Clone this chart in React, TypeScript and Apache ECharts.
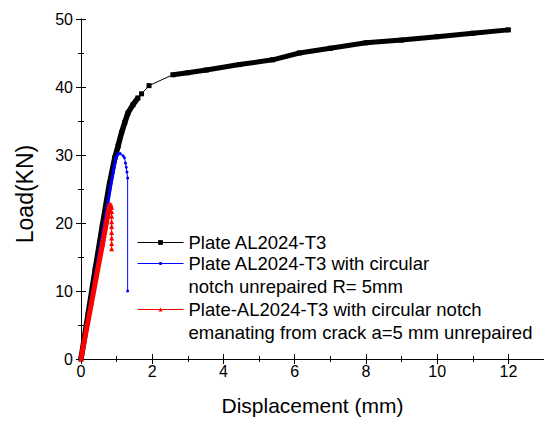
import React, { useEffect, useRef } from "react";
import * as echarts from "echarts";

const FONT = 'Arial, "Liberation Sans", sans-serif';

const seriesNames = [
  "Plate AL2024-T3",
  "Plate AL2024-T3 with circular notch unrepaired R= 5mm",
  "Plate-AL2024-T3 with circular notch emanating from crack a=5 mm unrepaired",
];
const legendLabels = [
  "Plate AL2024-T3",
  "\nPlate AL2024-T3 with circular\nnotch unrepaired R= 5mm",
  "\nPlate-AL2024-T3 with circular notch\nemanating from crack a=5 mm unrepaired",
];

// Plate AL2024-T3 (black)
const blackX = [0, 0.2, 0.4, 0.6, 0.8, 0.95, 1.04, 1.14, 1.23, 1.32, 1.46, 1.6, 1.7, 1.91, 2.16, 2.58, 3.0, 3.52, 4.45, 5.38, 6.13, 7.0, 8.0, 9.0, 10.0, 11.0, 12.0];
const blackY = [0, 6.6, 13.2, 19.6, 25.8, 29.6, 31.3, 33.3, 34.8, 36.2, 37.4, 38.4, 39.0, 40.2, 40.8, 41.8, 42.1, 42.5, 43.3, 44.0, 45.0, 45.7, 46.5, 46.9, 47.4, 47.9, 48.4];
const blackDenseA = [0, 11]; // index ranges drawn densely (thick)
const blackDenseB = [15, 26];
const blackNoMarker = [14];

// circular notch unrepaired (blue)
const blueX = [0, 0.3, 0.6, 0.9, 0.98, 1.04, 1.1, 1.18, 1.22, 1.25, 1.27, 1.29, 1.31, 1.31];
const blueY = [0, 9.1, 18.3, 27.4, 29.5, 30.2, 30.2, 29.9, 29.6, 28.8, 28.2, 27.5, 26.6, 10.0];
const blueDense = [0, 5];

// notch emanating from crack (red)
const redX = [0, 0.3, 0.6, 0.75, 0.81, 0.84, 0.86, 0.86, 0.86, 0.86, 0.86, 0.86, 0.86, 0.86, 0.86];
const redY = [0, 8.4, 16.8, 21.1, 22.8, 22.7, 22.3, 21.7, 21.0, 20.2, 19.5, 18.6, 17.8, 17.0, 16.2];
const redDense = [0, 4];

const pairs = (xs: number[], ys: number[], from = 0, to = xs.length - 1) =>
  xs.slice(from, to + 1).map((x, i) => [x, ys[from + i]]);

export default function App() {
  const ref = useRef<HTMLDivElement>(null);
  useEffect(() => {
    if (!ref.current) return;
    const chart = echarts.init(ref.current, undefined, { renderer: "svg" });
    const axisLine = { show: true, lineStyle: { color: "#000", width: 1 } };
    const xBase = { type: "value", min: 0, max: 13, gridIndex: 0, splitLine: { show: false } };
    const yBase = { type: "value", min: 0, max: 50, gridIndex: 0, splitLine: { show: false } };
    const lbl = { color: "#000", fontSize: 16, fontFamily: FONT };
    const legendCommon = {
      orient: "vertical",
      padding: 0,
      itemWidth: 46,
      itemHeight: 8,
      left: 137,
      lineStyle: { width: 1 },
      textStyle: { color: "#000", fontSize: 18.5, fontFamily: FONT, lineHeight: 23 },
      formatter: (n: string) => legendLabels[seriesNames.indexOf(n)],
    };
    const blackData = pairs(blackX, blackY).map((p, i) =>
      blackNoMarker.includes(i) ? { value: p, symbol: "none" } : { value: p }
    );
    chart.setOption({
      animation: false,
      grid: { left: 81, right: -1, top: 19, bottom: 60 },
      xAxis: [
        {
          ...xBase,
          position: "bottom",
          interval: 2,
          axisLine,
          axisTick: { show: true, inside: true, length: 5, lineStyle: { color: "#000" } },
          axisLabel: { ...lbl, margin: 4, showMaxLabel: false },
          name: "Displacement (mm)",
          nameLocation: "middle",
          nameGap: 36,
          nameTextStyle: { color: "#000", fontSize: 21, fontFamily: FONT },
        },
        {
          ...xBase,
          position: "bottom",
          interval: 1,
          axisLine: { show: false },
          axisTick: { show: true, inside: true, length: 3, lineStyle: { color: "#000" } },
          axisLabel: { show: false },
        },
        {
          ...xBase,
          position: "top",
          interval: 2,
          axisLine,
          axisTick: { show: true, inside: true, length: 5, lineStyle: { color: "#000" } },
          axisLabel: { show: false },
        },
        {
          ...xBase,
          position: "top",
          interval: 1,
          axisLine: { show: false },
          axisTick: { show: true, inside: true, length: 3, lineStyle: { color: "#000" } },
          axisLabel: { show: false },
        },
      ],
      yAxis: [
        {
          ...yBase,
          position: "left",
          interval: 10,
          axisLine,
          axisTick: { show: true, inside: true, length: 5, lineStyle: { color: "#000" } },
          axisLabel: { ...lbl, margin: 8 },
          name: "Load(KN)",
          nameLocation: "middle",
          nameGap: 45,
          nameRotate: 90,
          nameTextStyle: { color: "#000", fontSize: 23, fontFamily: FONT, padding: [0, 10, 0, 0] },
        },
        {
          ...yBase,
          position: "left",
          interval: 5,
          axisLine: { show: false },
          axisTick: { show: true, inside: true, length: 3, lineStyle: { color: "#000" } },
          axisLabel: { show: false },
        },
        {
          ...yBase,
          position: "right",
          interval: 10,
          axisLine,
          axisTick: { show: true, inside: true, length: 5, lineStyle: { color: "#000" } },
          axisLabel: { show: false },
        },
        {
          ...yBase,
          position: "right",
          interval: 5,
          axisLine: { show: false },
          axisTick: { show: true, inside: true, length: 3, lineStyle: { color: "#000" } },
          axisLabel: { show: false },
        },
      ],
      legend: [
        { ...legendCommon, itemHeight: 6, top: 231, data: [seriesNames[0]] },
        { ...legendCommon, itemHeight: 4, top: 229, data: [seriesNames[1]] },
        { ...legendCommon, itemHeight: 5, top: 275, data: [seriesNames[2]] },
      ],
      series: [
        {
          name: seriesNames[0],
          type: "line",
          data: blackData,
          symbol: "rect",
          symbolSize: 5,
          lineStyle: { color: "#000", width: 1 },
          itemStyle: { color: "#000" },
          z: 2,
        },
        {
          name: "_blackDenseA",
          type: "line",
          data: pairs(blackX, blackY, blackDenseA[0], blackDenseA[1]),
          symbol: "none",
          lineStyle: { color: "#000", width: 5.5 },
          z: 2,
        },
        {
          name: "_blackDenseB",
          type: "line",
          data: pairs(blackX, blackY, blackDenseB[0], blackDenseB[1]),
          symbol: "none",
          lineStyle: { color: "#000", width: 5 },
          z: 2,
        },
        {
          name: seriesNames[1],
          type: "line",
          data: pairs(blueX, blueY),
          symbol: "circle",
          symbolSize: 3,
          lineStyle: { color: "#0000ff", width: 1 },
          itemStyle: { color: "#0000ff" },
          z: 3,
        },
        {
          name: "_blueDense",
          type: "line",
          data: pairs(blueX, blueY, blueDense[0], blueDense[1]),
          symbol: "none",
          lineStyle: { color: "#0000ff", width: 3 },
          z: 3,
        },
        {
          name: seriesNames[2],
          type: "line",
          data: pairs(redX, redY),
          symbol: "triangle",
          symbolSize: 5,
          lineStyle: { color: "#ff0000", width: 1 },
          itemStyle: { color: "#ff0000" },
          z: 4,
        },
        {
          name: "_redDense",
          type: "line",
          data: pairs(redX, redY, redDense[0], redDense[1]),
          symbol: "none",
          lineStyle: { color: "#ff0000", width: 5 },
          z: 4,
        },
      ],
    });
    return () => chart.dispose();
  }, []);
  return (
    <div
      ref={ref}
      style={{ position: "absolute", left: 0, top: 0, width: 544, height: 421, background: "#fff" }}
    />
  );
}
